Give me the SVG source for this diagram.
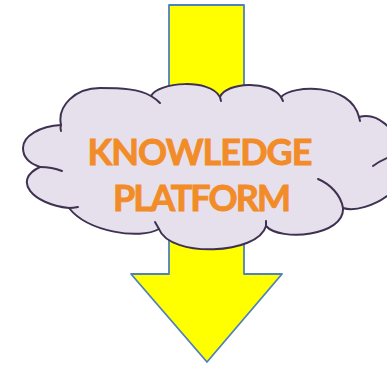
<svg xmlns="http://www.w3.org/2000/svg" width="387" height="368" viewBox="0 0 387 368">
  <style>
    .arrow { fill: #FFFF00; stroke: #4F81BD; stroke-width: 1.8; stroke-linejoin: round; }
    .cloud { fill: #E6E0EC; stroke: #3F3151; stroke-width: 2; stroke-linejoin: round; }
    .tail { fill: none; stroke: #3F3151; stroke-width: 2; stroke-linecap: round; }
    .label { font-family: "Lato", "Liberation Sans", sans-serif; font-weight: bold; font-size: 36px; fill: #F28C28; stroke: #F28C28; stroke-width: 0.9; text-anchor: middle; }
  </style>
  <rect width="387" height="368" fill="#FFFFFF"/>
  <g id="arrow">
    <polygon class="arrow" points="169,5 244,5 244,274 282,274 207,362 131,274 169,274"/>
  </g>
  <g id="cloud">
    <path class="cloud" d="M61,125
      C57,106 75,88 100,88
      C122,88 139,89 151,96
      C158,82 210,78 220,97
      C226,82 270,80 281,97
      C292,85 350,82 359,117
      C376,112 398,128 398,152
      C415,175 405,200 387,196
      C375,205 355,212 343,208
      C345,236 280,242 266,226
      C258,255 170,258 159,229
      C140,240 88,232 69,208
      C32,204 12,180 40,167
      C28,163 23,156 23,148
      C23,136 40,126 61,125 Z"/>
    <path class="tail" d="M61,125 Q60,128 61,131"/>
    <path class="tail" d="M151,96 Q156,99 160,103"/>
    <path class="tail" d="M220,97 L221,101"/>
    <path class="tail" d="M281,97 L283,101"/>
    <path class="tail" d="M359,117 L360,121"/>
    <path class="tail" d="M373,166 Q381,160 392,156"/>
    <path class="tail" d="M318,179 C330,184 341,195 343,208"/>
    <path class="tail" d="M266,226 L266,221"/>
    <path class="tail" d="M159,229 L155,222"/>
    <path class="tail" d="M69,208 Q73,208 78,207"/>
    <path class="tail" d="M40,167 Q52,167 62,171"/>
    <text class="label" x="200" y="165" textLength="225">KNOWLEDGE</text>
    <text class="label" x="202" y="210.5" textLength="178">PLATFORM</text>
  </g>
</svg>
